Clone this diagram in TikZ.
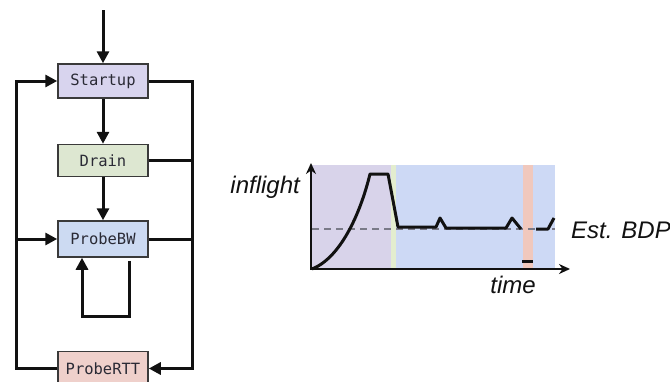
\documentclass[tikz,border=0pt]{standalone}
\usepackage{fontspec}
\setmonofont{DejaVu Sans Mono}
\setsansfont{Liberation Sans}
\usetikzlibrary{arrows.meta,positioning}
\definecolor{Ink}{HTML}{111111}
\definecolor{BoxText}{HTML}{2A2A35}
\definecolor{BoxLine}{HTML}{3A3A3A}
\definecolor{StartupSoft}{HTML}{D8D4EE}
\definecolor{DrainSoft}{HTML}{DDE7D1}
\definecolor{BWSoft}{HTML}{CCDAF2}
\definecolor{RTTSoft}{HTML}{EFD0CB}
\definecolor{PhaseStartup}{HTML}{D8D3EA}
\definecolor{PhaseDrain}{HTML}{E3EDCF}
\definecolor{PhaseBW}{HTML}{CDD9F5}
\definecolor{PhaseRTT}{HTML}{F0C8BD}
\definecolor{Dash}{HTML}{7A7A88}
\tikzset{
  state/.style={draw=BoxLine,line width=1.5pt,minimum width=90pt,minimum height=34pt,inner sep=0pt,text=BoxText,font=\fontsize{15.5}{18}\selectfont\ttfamily},
  stateStartup/.style={state,fill=StartupSoft},
  stateDrain/.style={state,fill=DrainSoft},
  stateBW/.style={state,fill=BWSoft},
  stateRTT/.style={state,fill=RTTSoft},
  edge/.style={-{Triangle[length=12pt,width=12pt]},line width=3pt,draw=Ink},
  wire/.style={line width=3pt,draw=Ink},
  axis/.style={-{Stealth[length=11pt,width=10pt]},line width=2.2pt,draw=Ink},
  trace/.style={line width=3pt,draw=Ink,line join=round},
  axislabel/.style={inner sep=0pt,text=Ink,font=\fontsize{24}{28}\selectfont\sffamily\itshape}
}
\begin{document}
\begin{tikzpicture}[x=1pt,y=-1pt]
\useasboundingbox (0,0) rectangle (670,381);
% state machine
\node[stateStartup] (startup) at (103,81) {Startup};
\node[stateDrain,below=45pt of startup,minimum height=32pt] (drain) {Drain};
\node[stateBW,below=43pt of drain,minimum height=36pt] (probebw) {ProbeBW};
\node[stateRTT,below=93pt of probebw] (probertt) {ProbeRTT};
\coordinate (entry) at (103,10);
\coordinate (lbus) at (16,0);
\coordinate (rbus) at (192,0);
\draw[edge] (entry) -- (startup);
\draw[edge] (startup) -- (drain);
\draw[edge] (drain) -- (probebw);
\draw[edge] (probertt.west) -| (lbus |- startup.west) -- (startup.west);
\draw[edge] (lbus |- probebw.west) -- (probebw.west);
\draw[edge] (startup.east) -| (rbus |- probertt.east) -- (probertt.east);
\draw[wire] (drain.east) -- (rbus |- drain.east);
\draw[wire] (probebw.east) -- (rbus |- probebw.east);
\draw[edge] ([xshift=26pt,yshift=-3pt]probebw.south) -- ++(0,56) -| ([xshift=-21pt]probebw.south);
% inflight over time
\fill[PhaseStartup] (312,165) rectangle (391,269);
\fill[PhaseDrain] (391,165) rectangle (396,269);
\fill[PhaseBW] (396,165) rectangle (555,269);
\fill[PhaseRTT] (523,165) rectangle (533,269);
\draw[Dash,line width=1.3pt,dash pattern=on 7pt off 5pt] (312,229) -- (555,229);
\draw[trace] (312,269) .. controls (340,258) and (360,215) .. (370,174) -- (388,174) -- (398,227) -- (436,227) -- (440,218) -- (446,228) -- (506,228) -- (512,218) -- (521,229);
\draw[trace] (536,229) -- (548,229) -- (554,218);
\draw[trace] (522,261) -- (533,261);
\coordinate (origin) at (311,269);
\draw[axis] ([yshift=1pt]origin) -- (311,163);
\draw[axis] ([xshift=-1pt]origin) -- (570,269);
\node[axislabel,anchor=base east] (ylab) at (300,193) {inflight};
\node[axislabel,anchor=base east] (xlab) at (536,293) {time};
\node[axislabel,anchor=base west] (bdp) at (571,238) {Est. BDP};
\end{tikzpicture}
\end{document}
